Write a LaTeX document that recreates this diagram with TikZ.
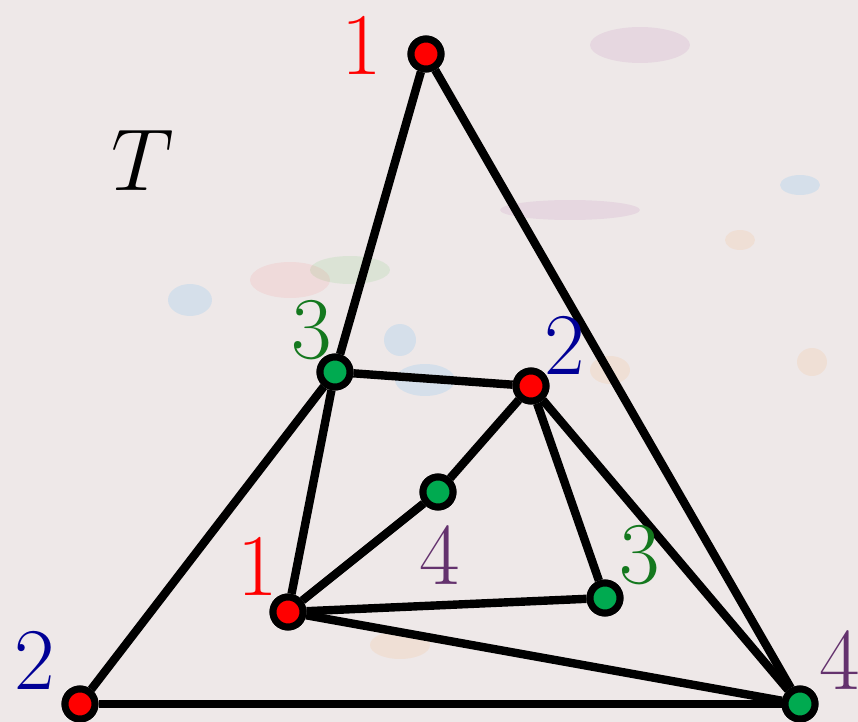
\RequirePackage{fix-cm}
\documentclass[tikz,border=0pt]{standalone}
\usepackage{tikz}

\definecolor{fondo}{RGB}{238,232,232}
\definecolor{rojo}{RGB}{255,0,0}
\definecolor{verde}{RGB}{0,170,80}
\definecolor{verdet}{RGB}{20,120,30}
\definecolor{azul}{RGB}{0,0,150}
\definecolor{morado}{RGB}{100,50,110}

\begin{document}
\begin{tikzpicture}[x=0.5pt, y=-0.5pt,
  vrojo/.style={circle, draw=black, line width=3.5pt, fill=rojo, minimum size=15pt, inner sep=0pt},
  vverde/.style={circle, draw=black, line width=3.5pt, fill=verde, minimum size=15pt, inner sep=0pt},
  arista/.style={line width=4.2pt},
  etq/.style={inner sep=0pt, font=\fontsize{44}{50}\selectfont}]

% Fondo
\fill[fondo] (0,0) rectangle (858,722);
\useasboundingbox (0,0) rectangle (858,722);

% Manchas
\fill[blue!40!cyan, opacity=0.10] (190,300) ellipse (22 and 16);
\fill[blue!40!cyan, opacity=0.10] (400,340) ellipse (16 and 16);
\fill[blue!40!cyan, opacity=0.10] (425,380) ellipse (30 and 16);
\fill[blue!40!cyan, opacity=0.10] (800,185) ellipse (20 and 10);
\fill[violet, opacity=0.07] (640,45) ellipse (50 and 18);
\fill[violet, opacity=0.07] (570,210) ellipse (70 and 10);
\fill[green!70!black, opacity=0.08] (350,270) ellipse (40 and 14);
\fill[red, opacity=0.06] (290,280) ellipse (40 and 18);
\fill[orange, opacity=0.08] (610,370) ellipse (20 and 14);
\fill[orange, opacity=0.08] (812,362) ellipse (15 and 14);
\fill[orange, opacity=0.08] (400,645) ellipse (30 and 14);
\fill[orange, opacity=0.08] (740,240) ellipse (15 and 10);

% Vertices
\node[vrojo] (A) at (426,54) {};
\node[vverde] (B) at (335,372) {};
\node[vrojo] (C) at (531,386) {};
\node[vverde] (D) at (438,492) {};
\node[vverde] (E) at (605,598) {};
\node[vrojo] (F) at (288,612) {};
\node[vrojo] (G) at (80,704) {};
\node[vverde] (H) at (800,704) {};

% Aristas
\foreach \u/\v in {A/B, A/H, B/C, B/G, B/F, C/D, C/E, C/H, D/F, F/E, F/H, G/H}
	\draw[arista] (\u) -- (\v);

% Vertices encima de las aristas
\foreach \n/\s in {A/vrojo, B/vverde, C/vrojo, D/vverde, E/vverde, F/vrojo, G/vrojo, H/vverde}
	\node[\s] at (\n) {};

% Etiquetas
\node[etq, text=rojo] (lA) at (362,45) {1};
\node[etq] (lT) at (143,160) {$T$};
\node[etq, text=verdet] (lB) at (312,330) {3};
\node[etq, text=azul] (lC) at (565,345) {2};
\node[etq, text=morado] (lD) at (440,555) {4};
\node[etq, text=verdet] (lE) at (640,555) {3};
\node[etq, text=rojo] (lF) at (258,566) {1};
\node[etq, text=azul] (lG) at (35,660) {2};
\node[etq, text=morado] (lH) at (840,660) {4};

\end{tikzpicture}
\end{document}
